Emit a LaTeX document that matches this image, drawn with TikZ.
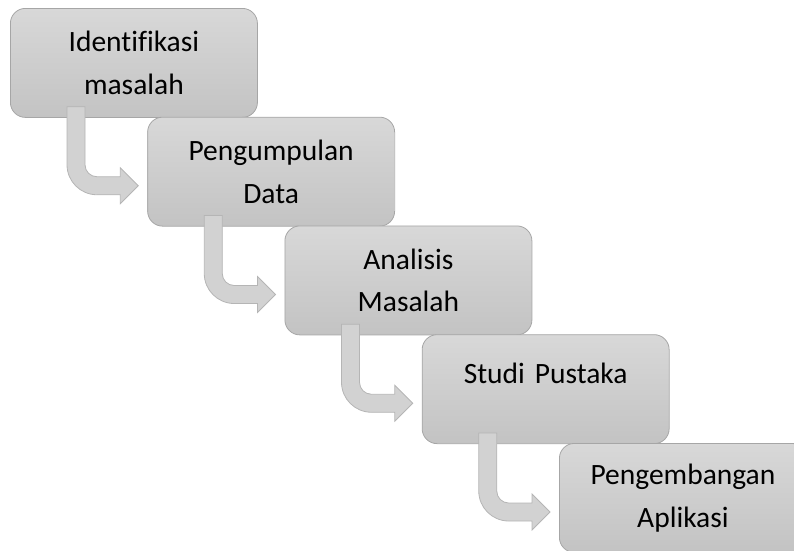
\documentclass[tikz,border=0pt]{standalone}
\usepackage{fontspec}
\setmainfont{Carlito}[Ligatures={NoCommon}]
\usetikzlibrary{calc}
\definecolor{boxtop}{HTML}{D8D8D8}
\definecolor{boxbottom}{HTML}{C3C3C3}
\definecolor{boxline}{HTML}{A6A6A6}
\definecolor{arrowfill}{HTML}{D2D2D2}
\definecolor{arrowline}{HTML}{B5B5B5}

\begin{document}
\begin{tikzpicture}[x=1pt,y=1pt]
    \tikzset{stage/.style={draw=boxline, line width=0.8pt, rounded corners=15pt,
            top color=boxtop, bottom color=boxbottom, anchor=north west,
            minimum width=247pt, minimum height=109pt, text width=235pt, align=center,
            font=\fontsize{29.5}{42.5}\selectfont},
        bent arrow/.style={draw=arrowline, fill=arrowfill, line width=0.8pt}}
    \useasboundingbox (0,0) rectangle (794,-550);
    \foreach \i/\name/\txt/\opt in {0/ident/{Identifikasi\\masalah}/{}, 1/kumpul/{Pengumpulan\\Data}/{},
            2/analisis/{Analisis\\Masalah}/{}, 3/studi/{Studi Pustaka}/{text depth=32pt},
            4/kembang/{Pengembangan\\Aplikasi}/{}}{
        \tikzset{extra/.style/.expand once=\opt}
        \node[stage,extra] (\name) at (10+137.25*\i, -8-108.75*\i) {\txt};
    }
    \foreach \a/\b in {ident/kumpul, kumpul/analisis, analisis/studi, studi/kembang}
        \draw[bent arrow] let \p1=(\a.south west), \p2=(\b.north west) in
            (\x1+57pt,\y1+11pt) -- (\x1+57pt,\y2-48pt) arc[start angle=180, end angle=270, radius=30pt]
            -- (\x2-27pt,\y2-78pt) -- (\x2-27pt,\y2-87pt) -- (\x2-9pt,\y2-69pt) -- (\x2-27pt,\y2-51pt)
            -- (\x2-27pt,\y2-60pt) -- (\x1+87pt,\y2-60pt) arc[start angle=270, end angle=180, radius=12pt]
            -- (\x1+75pt,\y1+11pt) -- cycle;
\end{tikzpicture}
\end{document}
